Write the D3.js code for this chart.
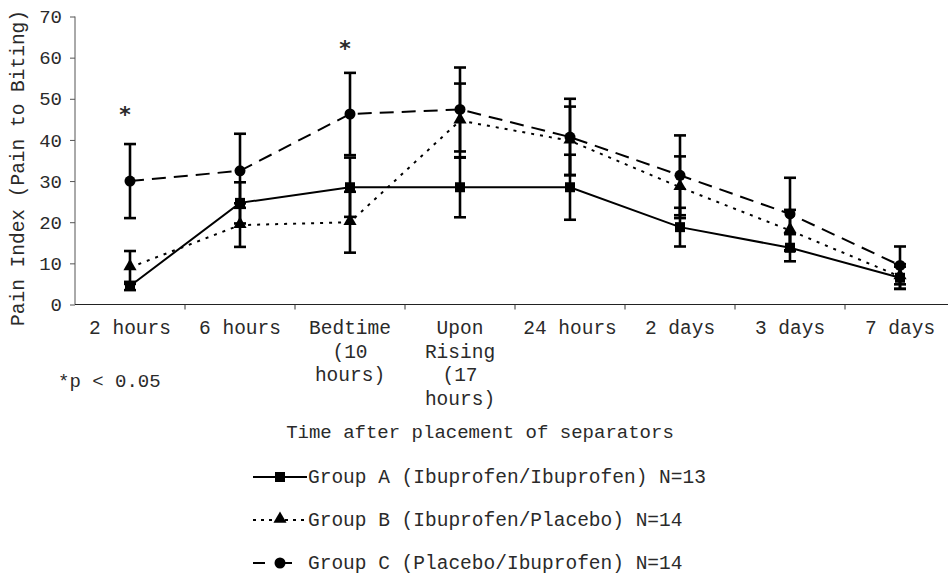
<!DOCTYPE html>
<html>
<head>
<meta charset="utf-8">
<script src="https://cdn.jsdelivr.net/npm/d3@7"></script>
<style>
  body { margin: 0; background: #fff; }
  svg { display: block; }
  text { font-family: "Liberation Mono", "DejaVu Sans Mono", monospace; fill: #2a2a2a; }
</style>
</head>
<body>
<div id="chart"></div>
<script>
var w = 948;
var h = 575;

// categories along the time axis (multi-line labels)
var categories = ["2 hours", "6 hours", "Bedtime", "Upon Rising", "24 hours", "2 days", "3 days", "7 days"];
var catLabels = [["2 hours"], ["6 hours"], ["Bedtime", "(10", "hours)"], ["Upon", "Rising", "(17", "hours)"],
  ["24 hours"], ["2 days"], ["3 days"], ["7 days"]];
var yTicks = [0, 10, 20, 30, 40, 50, 60, 70];

// mean pain index and error (+/-) for each group
var groupA = [4.5, 24.7, 28.5, 28.5, 28.5, 18.8, 13.8, 6.5];
var errA = [1, 5, 7.2, 7.3, 7.9, 4.7, 3.3, 2.7];
var groupB = [9, 19.3, 20, 44.7, 39.8, 28.5, 18, 6.8];
var errB = [4, 5.3, 7.4, 9, 8.3, 7.5, 5, 3];
var groupC = [30, 32.5, 46.3, 47.4, 40.7, 31.4, 22, 9.5];
var errC = [9, 9, 10, 10.2, 9.3, 9.7, 8.8, 4.6];

var legendNames = ["Group A (Ibuprofen/Ibuprofen) N=13",
  "Group B (Ibuprofen/Placebo) N=14",
  "Group C (Placebo/Ibuprofen) N=14"];

// significance markers
var starCats = ["2 hours", "Bedtime"];
var starValues = [47.5, 63.5];

var series = [
  { vals: groupA, err: errA, dash: null, marker: "square", name: legendNames[0], legDash: null },
  { vals: groupB, err: errB, dash: "3,6", marker: "triangle", name: legendNames[1], legDash: "3,5" },
  { vals: groupC, err: errC, dash: "14,8", marker: "circle", name: legendNames[2], legDash: "12,15" }
];

var svg = d3.select("#chart").append("svg")
  .attr("width", w)
  .attr("height", h);

var x = d3.scaleBand()
  .domain(categories)
  .range([75, 955]);

var y = d3.scaleLinear()
  .domain([0, 70])
  .range([304.5, 16.5]);

function cx(c) { return x(c) + x.bandwidth() / 2; }

// y axis
var yAxis = svg.append("g")
  .attr("transform", "translate(75,0)")
  .call(d3.axisLeft(y).tickValues(yTicks).tickSize(5).tickPadding(8));
yAxis.select(".domain").attr("stroke", "#555").attr("d", "M0," + y(70) + "V" + y(0));
yAxis.selectAll(".tick line").attr("stroke", "#555");
yAxis.selectAll("text")
  .style("font-family", "Liberation Mono")
  .style("font-size", "19px")
  .attr("fill", "#333");

// x axis line + ticks at category boundaries
svg.append("line")
  .attr("x1", 75).attr("x2", 955)
  .attr("y1", y(0)).attr("y2", y(0))
  .attr("stroke", "#222").attr("stroke-width", 1.2);
svg.selectAll(".xtick")
  .data(categories.slice(1))
  .enter().append("line")
  .attr("class", "xtick")
  .attr("x1", function (d) { return x(d); })
  .attr("x2", function (d) { return x(d); })
  .attr("y1", y(0))
  .attr("y2", y(0) + 5)
  .attr("stroke", "#333");

// category labels
var lab = svg.selectAll(".clab")
  .data(categories)
  .enter().append("text")
  .attr("class", "clab")
  .attr("text-anchor", "middle")
  .style("font-size", "19.5px");
lab.each(function (d, i) {
  var t = d3.select(this);
  catLabels[i].forEach(function (line, j) {
    t.append("tspan")
      .attr("x", cx(d))
      .attr("y", 334 + j * 23.5)
      .text(line);
  });
});

// y title
svg.append("text")
  .attr("transform", "translate(24,168) rotate(-90)")
  .attr("text-anchor", "middle")
  .style("font-size", "19.5px")
  .text("Pain Index (Pain to Biting)");

svg.append("text")
  .attr("x", 58).attr("y", 387)
  .style("font-size", "19px")
  .text("*p < 0.05");

svg.append("text")
  .attr("x", 480).attr("y", 438)
  .attr("text-anchor", "middle")
  .style("font-size", "19px")
  .text("Time after placement of separators");

// error bars
series.forEach(function (s) {
  var g = svg.append("g").attr("stroke", "#000").attr("stroke-width", 2.6);
  categories.forEach(function (c, i) {
    var hi = y(s.vals[i] + s.err[i]), lo = y(Math.max(0, s.vals[i] - s.err[i]));
    g.append("line").attr("x1", cx(c)).attr("x2", cx(c)).attr("y1", hi).attr("y2", lo);
    g.append("line").attr("x1", cx(c) - 6).attr("x2", cx(c) + 6).attr("y1", hi).attr("y2", hi);
    g.append("line").attr("x1", cx(c) - 6).attr("x2", cx(c) + 6).attr("y1", lo).attr("y2", lo);
  });
});

// lines
var line = d3.line()
  .x(function (d, i) { return cx(categories[i]); })
  .y(function (d) { return y(d); });

series.forEach(function (s) {
  svg.append("path")
    .datum(s.vals)
    .attr("d", line)
    .attr("fill", "none")
    .attr("stroke", "#000")
    .attr("stroke-width", 2)
    .attr("stroke-dasharray", s.dash);
});

function drawMarker(g, type, px, py) {
  if (type === "square") {
    g.append("rect").attr("x", px - 5).attr("y", py - 5).attr("width", 10).attr("height", 10).attr("fill", "#000");
  } else if (type === "triangle") {
    g.append("path").attr("d", d3.symbol().type(d3.symbolTriangle).size(75)()).attr("transform", "translate(" + px + "," + (py - 1) + ")").attr("fill", "#000");
  } else {
    g.append("circle").attr("cx", px).attr("cy", py).attr("r", 5.5).attr("fill", "#000");
  }
}

// markers
series.forEach(function (s) {
  var g = svg.append("g");
  s.vals.forEach(function (v, i) {
    drawMarker(g, s.marker, cx(categories[i]), y(v));
  });
});

// asterisks
starCats.forEach(function (c, i) {
  svg.append("text")
    .attr("x", cx(c) - 5)
    .attr("y", y(starValues[i]) + 13)
    .attr("text-anchor", "middle")
    .style("font-family", "DejaVu Sans")
    .style("font-weight", "bold")
    .style("font-size", "22px")
    .attr("fill", "#000")
    .text("*");
});

// legend
series.forEach(function (s, i) {
  var ly = 477 + i * 43;
  var g = svg.append("g");
  g.append("line")
    .attr("x1", 253).attr("x2", 307)
    .attr("y1", ly).attr("y2", ly)
    .attr("stroke", "#000").attr("stroke-width", 2)
    .attr("stroke-dasharray", s.legDash);
  drawMarker(g, s.marker, 280, ly);
  g.append("text")
    .attr("x", 308).attr("y", ly + 6)
    .style("font-size", "19.5px")
    .text(s.name);
});
</script>
</body>
</html>
